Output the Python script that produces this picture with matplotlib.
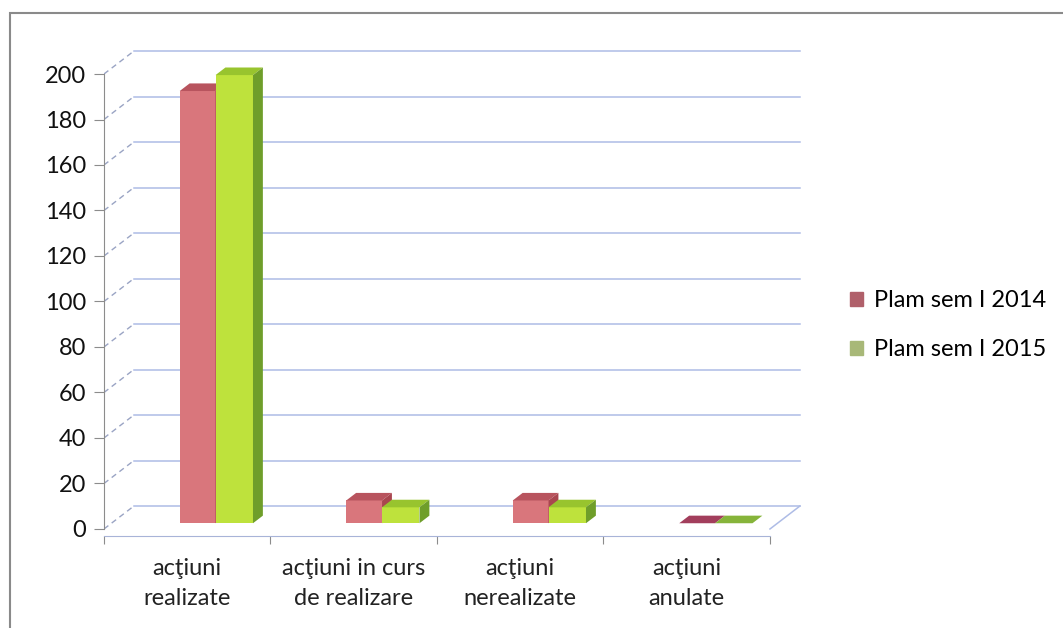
import matplotlib.pyplot as plt
from matplotlib.patches import Polygon, Rectangle, Patch

plt.rcParams['font.family'] = ['Lato', 'DejaVu Sans']

categories = ["acţiuni\nrealizate", "acţiuni in curs\nde realizare",
              "acţiuni\nnerealizate", "acţiuni\nanulate"]
series_names = ["Plam sem I 2014", "Plam sem I 2015"]
values_2014 = [190, 10, 10, 0]
values_2015 = [197, 7, 7, 0]
y_ticks = list(range(0, 201, 20))

# depth of the fake 3d box, in data units
DX, DY = 0.18, 10.1
D0, D1 = 0.25, 0.58

front_cols = ["#D9767C", "#BEE23C"]
top_cols = ["#B8545E", "#98C42E"]
side_cols = ["#A9464F", "#6F9E2A"]
flat_cols = ["#A23E5C", "#86B43A"]
legend_cols = ["#B0606A", "#A8B878"]

fig = plt.figure(figsize=(10.63, 6.28), dpi=100)
ax = fig.add_axes([0.0978, 0.1468, 0.6657, 0.7897])
ax.set_xlim(0, 4.25)
ax.set_ylim(-3, 215)
for s in ["top", "right"]:
    ax.spines[s].set_visible(False)
ax.spines["left"].set_bounds(0, 200)
ax.spines["bottom"].set_bounds(0, 4)
ax.spines["left"].set_color("#8C8C8C")
ax.spines["bottom"].set_color("#A8B4D8")
ax.spines["left"].set_zorder(5)

ax.set_yticks(y_ticks)
ax.set_yticklabels([str(v) for v in y_ticks], fontsize=17, color="#111111")
ax.tick_params(axis="y", length=7, color="#8C8C8C", pad=6)
ax.set_xticks(range(5))
ax.set_xticklabels([""] * 5)
ax.set_xticks([i + 0.5 for i in range(4)], minor=True)
ax.set_xticklabels(categories, minor=True, fontsize=17, color="#222222", linespacing=1.55)
ax.tick_params(axis="x", which="major", length=6, color="#8C8C8C")
ax.tick_params(axis="x", which="minor", length=0, pad=16)

# back wall grid and side diagonals
for v in y_ticks:
    ax.plot([DX, 4 + DX], [v + DY, v + DY], color="#AEBCE6", lw=1.1, zorder=1)
    ax.plot([0, DX], [v, v + DY], color="#9AA4C4", lw=1, ls=(0, (4, 3)), zorder=1)
ax.plot([4, 4 + DX], [0, DY], color="#AEBCE6", lw=1.1, zorder=1)

offsets = [0.41, 0.625]
widths = [0.215, 0.225]
for s, vals in enumerate([values_2014, values_2015]):
    for i, v in enumerate(vals):
        x0 = i + offsets[s] + D0 * DX
        w = widths[s]
        b = D0 * DY
        ax.bar(x0, v, width=w, bottom=b, align="edge",
               color=front_cols[s], lw=0, zorder=3 + s)
        top = [(x0, v + b), (x0 + w, v + b),
               (x0 + w + (D1 - D0) * DX, v + D1 * DY), (x0 + (D1 - D0) * DX, v + D1 * DY)]
        ax.add_patch(Polygon(top, closed=True, lw=0, zorder=3 + s,
                             color=top_cols[s] if v > 0 else flat_cols[s]))
        side = [(x0 + w, b), (x0 + w + (D1 - D0) * DX, D1 * DY),
                (x0 + w + (D1 - D0) * DX, v + D1 * DY), (x0 + w, v + b)]
        ax.add_patch(Polygon(side, closed=True, lw=0, color=side_cols[s], zorder=3 + s))

handles = [Patch(color=c) for c in legend_cols]
fig.legend(handles, series_names, loc="center left", bbox_to_anchor=(0.780, 0.482),
           frameon=False, fontsize=17, handlelength=0.55, handleheight=0.55,
           handletextpad=0.45, labelspacing=1.2)

fig.patches.append(Rectangle((10 / 1063, -0.01), 1.05, (628 - 13) / 628 + 0.01,
                             transform=fig.transFigure, fill=False,
                             edgecolor="#8A8A8A", lw=1.5))

fig.savefig("out.png", dpi=100)
